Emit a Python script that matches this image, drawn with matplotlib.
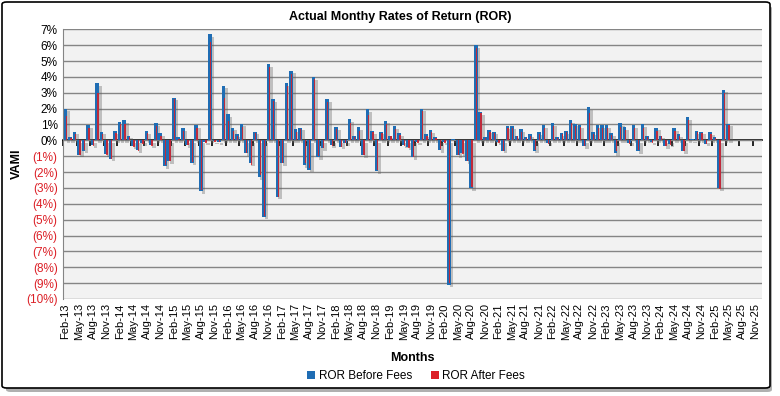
import matplotlib
matplotlib.use("Agg")
import matplotlib.pyplot as plt
import matplotlib.patheffects as pe
from matplotlib.patches import FancyBboxPatch, Patch
import numpy as np
import pandas as pd

plt.rcParams['font.family'] = ['Liberation Sans', 'DejaVu Sans']

# monthly categories Feb-13 .. Dec-25, data runs to May-25
months = pd.date_range("2013-02-01", periods=155, freq="MS").strftime("%b-%y").tolist()

ror_before = [
    2.0, 0.2, 0.55, -0.9, -0.65, 0.95, -0.3, 3.6, 0.55, -0.85,
    -1.15, 0.6, 1.15, 1.3, 0.3, -0.35, -0.6, -0.15, 0.6, -0.3,
    1.1, 0.45, -1.6, -1.3, 2.7, 0.2, 0.75, -0.3, -1.4, 0.95,
    -3.2, -0.1, 6.7, -0.05, -0.1, 3.45, 1.65, 0.8, 0.4, 1.05,
    -0.8, -1.45, 0.55, -2.3, -4.8, 4.8, 2.6, -3.55, -1.45, 3.6,
    4.4, 0.7, 0.8, -1.55, -1.85, 4.0, -1.05, -0.5, 2.6, -0.3,
    0.85, -0.4, -0.15, 1.35, 0.25, 0.85, -0.95, 1.95, 0.6, -1.95,
    0.55, 1.25, 0.3, 0.9, 0.45, -0.3, -0.45, -1.05, -0.1, 2.0,
    0.4, 0.65, 0.2, -0.6, -0.1, -9.1, 0.1, -0.95, -0.8, -1.3,
    -3.0, 6.0, 1.8, 0.2, 0.65, 0.55, -0.1, -0.65, 0.9, 0.9,
    0.3, 0.7, 0.2, 0.4, -0.65, 0.5, 0.95, -0.15, 1.1, 0.2,
    0.45, 0.6, 1.3, 1.05, 0.95, -0.35, 2.1, 0.5, 0.95, 0.95,
    0.95, 0.45, -0.8, 1.1, 0.85, -0.15, 0.95, -0.7, 1.0, 0.25,
    -0.1, 0.8, 0.3, -0.35, -0.25, 0.75, 0.4, -0.7, 1.45, 0.1,
    0.6, 0.55, -0.2, 0.5, 0.2, -3.0, 3.2, 1.05,
]
ror_after = [
    1.55, 0.15, 0.4, -0.95, -0.6, 0.8, -0.35, 3.0, 0.4, -0.9,
    -1.2, 0.45, 1.0, 1.0, 0.2, -0.4, -0.65, -0.2, 0.45, -0.35,
    0.9, 0.3, -1.55, -1.3, 2.6, 0.1, 0.6, -0.3, -1.35, 0.8,
    -3.15, -0.15, 6.2, -0.1, -0.1, 2.7, 1.2, 0.6, 0.3, 0.85,
    -0.8, -1.55, 0.45, -2.2, -4.75, 4.6, 2.45, -3.6, -1.4, 3.45,
    4.2, 0.55, 0.7, -1.45, -1.75, 3.85, -1.0, -0.5, 2.4, -0.35,
    0.7, -0.45, -0.15, 1.1, 0.2, 0.6, -0.95, 1.6, 0.5, -1.9,
    0.45, 1.0, 0.25, 0.7, 0.35, -0.35, -0.5, -1.05, -0.15, 1.85,
    0.3, 0.5, 0.15, -0.55, -0.15, -9.0, 0.05, -0.95, -0.85, -1.3,
    -2.95, 5.8, 1.7, 0.15, 0.55, 0.45, -0.15, -0.65, 0.75, 0.75,
    0.25, 0.55, 0.15, 0.3, -0.6, 0.4, 0.8, -0.2, 0.9, 0.15,
    0.4, 0.5, 1.1, 0.9, 0.85, -0.35, 1.7, 0.4, 0.8, 0.8,
    0.75, 0.35, -0.7, 0.85, 0.65, -0.2, 0.75, -0.6, 0.8, 0.2,
    -0.15, 0.6, 0.25, -0.35, -0.3, 0.6, 0.3, -0.7, 1.3, 0.05,
    0.5, 0.45, -0.25, 0.4, 0.15, -3.05, 3.0, 0.95,
]

yticks = list(range(-10, 8))
blue = '#1f6db4'
red = '#dc1f26'

fig = plt.figure(figsize=(7.8, 3.96), dpi=100)

# outer frame with shadow
fig.patches.append(FancyBboxPatch((6 / 780, 1 - 392 / 396), 766 / 780, 386 / 396,
                                  boxstyle="round,pad=0,rounding_size=0.006",
                                  transform=fig.transFigure, facecolor='#b0b0b0',
                                  edgecolor='none', zorder=-10))
fig.patches.append(FancyBboxPatch((2 / 780, 1 - 388 / 396), 768 / 780, 386 / 396,
                                  boxstyle="round,pad=0,rounding_size=0.006",
                                  transform=fig.transFigure, facecolor='white',
                                  edgecolor='black', linewidth=1.2, zorder=-9))

ax = fig.add_axes([63.3 / 780, 1 - 299 / 396, (762 - 63.3) / 780, (299 - 29.3) / 396])
ax.set_facecolor('#f2f2f2')

x = np.arange(len(ror_before))
shadow = [pe.SimplePatchShadow(offset=(2, -2), shadow_rgbFace='#606060', alpha=0.35), pe.Normal()]
bars_b = ax.bar(x, ror_before, width=0.8, color=blue, zorder=3)
for b in bars_b:
    b.set_path_effects(shadow)
ax.bar(x + 0.18, ror_after, width=0.28, color=red, alpha=0.85, zorder=4)

ax.set_xlim(-0.5, len(months) - 0.5)
ax.set_ylim(-10, 7)
ax.set_yticks(yticks)
ax.set_yticklabels([f"{v}%" if v >= 0 else f"({-v}%)" for v in yticks], fontsize=8.5)
for lab, v in zip(ax.get_yticklabels(), yticks):
    lab.set_color(red if v < 0 else 'black')
ax.yaxis.grid(True, color='#858585', linewidth=1, zorder=1)
ax.set_axisbelow(True)
ax.tick_params(axis='y', length=0, pad=4)

ax.set_xticks(range(0, len(months), 3))
ax.set_xticklabels(months[::3], rotation=90, fontsize=8)
ax.tick_params(axis='x', length=0, pad=3)

for s in ['top', 'right', 'bottom']:
    ax.spines[s].set_visible(False)
ax.spines['left'].set_color('#858585')

# zero axis line with tick marks every 3 months (pointing down)
zero_frac = (0 - (-10)) / 17
sec = ax.secondary_xaxis(zero_frac)
sec.set_xticks(np.arange(-0.5, len(months), 3))
sec.set_xticklabels([])
sec.tick_params(axis='x', length=4, width=1.2, color='black', direction='in')
for s in sec.spines.values():
    s.set_color('black')
    s.set_linewidth(1.2)

ax.set_ylabel('VAMI', fontsize=9, fontweight='bold', labelpad=2)
ax.set_xlabel('Months', fontsize=9, fontweight='bold', labelpad=8)
fig.text(400 / 780, 1 - 17 / 396, 'Actual Monthy Rates of Return (ROR)',
         ha='center', va='center', fontsize=9, fontweight='bold')

handles = [Patch(facecolor=blue, label='ROR Before Fees'),
           Patch(facecolor=red, label='ROR After Fees')]
fig.legend(handles=handles, loc='center', bbox_to_anchor=(416 / 780, 1 - 376 / 396),
           ncol=2, frameon=False, fontsize=8.5, handlelength=0.7, handleheight=0.7,
           handletextpad=0.3, columnspacing=1.6)

fig.savefig('out.png', dpi=100)
